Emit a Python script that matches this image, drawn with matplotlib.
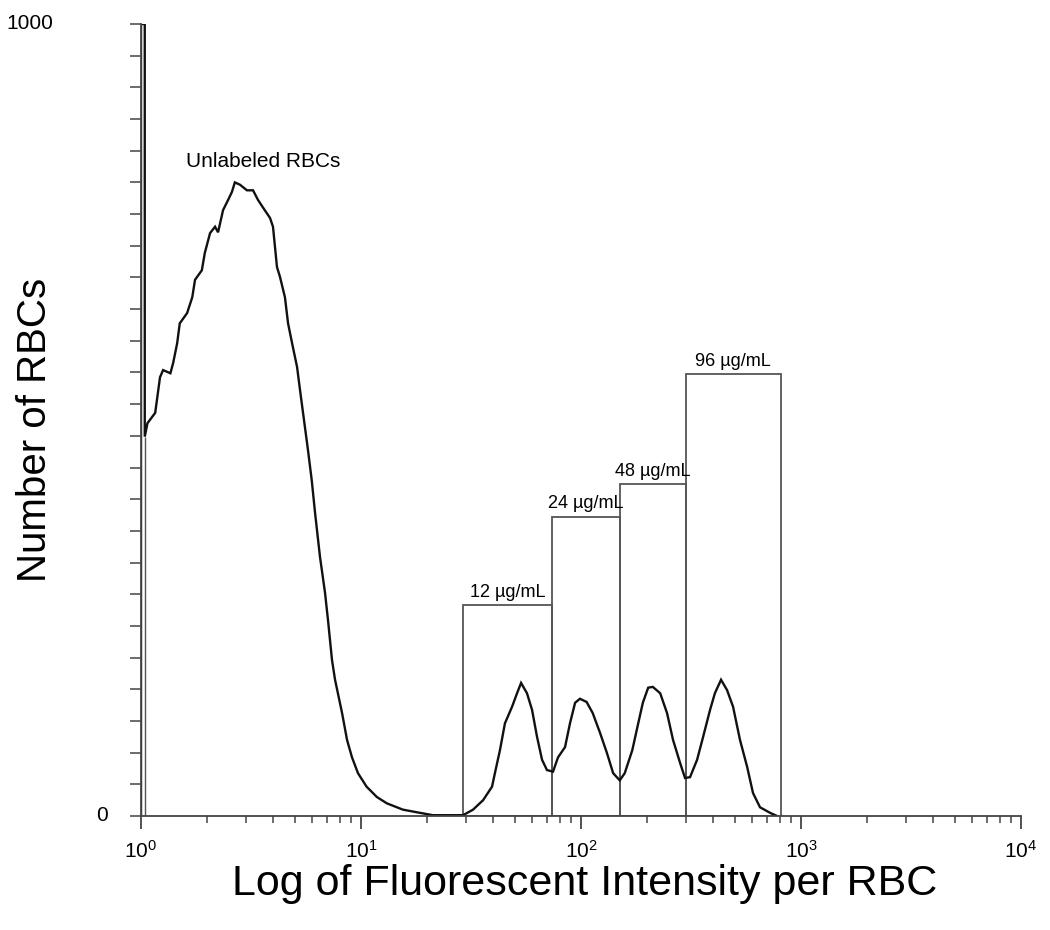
import matplotlib
matplotlib.use("Agg")
import matplotlib.pyplot as plt
from matplotlib.ticker import LogLocator, NullFormatter, MultipleLocator

plt.rcParams['font.family'] = ['Liberation Sans', 'DejaVu Sans']
plt.rcParams['mathtext.fontset'] = 'custom'
plt.rcParams['mathtext.rm'] = 'Liberation Sans'
plt.rcParams['mathtext.it'] = 'Liberation Sans'

# histogram trace (fluorescence intensity, number of cells)
hist_x = [1.0, 1.0, 1.04, 1.04, 1.07, 1.16, 1.22, 1.26, 1.36, 1.40, 1.46, 1.50, 1.62,
          1.71, 1.76, 1.89, 1.95, 2.06, 2.17, 2.24, 2.36, 2.49, 2.59, 2.67, 2.82,
          3.03, 3.23, 3.40, 3.59, 3.86, 3.98, 4.15, 4.28, 4.51, 4.66, 4.86, 5.12,
          5.28, 5.56, 5.74, 5.97, 6.18, 6.51, 6.86, 7.08, 7.38, 7.62, 8.20, 8.64,
          9.10, 9.69, 10.6, 11.8, 13.1, 15.5, 18.5, 21.2, 29.1,
          32.3, 35.9, 39.4, 40.6, 42.8, 45.1, 48.6, 51.2, 53.4, 56.8, 59.9, 63.1,
          66.5, 70.0, 74.6, 78.6, 84.6, 89.1, 94.0, 98.9, 106, 113, 122, 131, 140,
          150, 158, 171, 182, 191, 202, 212, 229, 246, 262, 282, 297, 313, 337,
          359, 386, 406, 433, 461, 491, 528, 569, 605, 651, 723, 778]
hist_y = [0, 1000, 1000, 479, 496, 509, 554, 563, 559, 572, 597, 622, 635,
          655, 677, 689, 711, 736, 744, 737, 765, 778, 788, 800, 797,
          790, 790, 778, 768, 755, 744, 693, 681, 655, 622, 597, 567,
          538, 491, 462, 424, 383, 327, 282, 247, 197, 172, 130, 96,
          74, 54, 37, 24, 16, 8, 4, 1, 1,
          8, 20, 37, 54, 83, 117, 138, 155, 168, 155, 134, 100,
          71, 58, 56, 74, 87, 117, 143, 148, 144, 130, 105, 80, 54,
          45, 54, 83, 117, 143, 162, 163, 155, 130, 96, 67, 48, 49, 71,
          100, 134, 155, 172, 159, 138, 96, 62, 29, 11, 4, 0]
first_bin_edge = 1.04

# gates
gate_left = [29.2, 73.6, 151, 299]
gate_right = [73.6, 151, 299, 808]
gate_height = [266, 378, 419, 558]
gate_labels = ['12 µg/mL', '24 µg/mL', '48 µg/mL', '96 µg/mL']

fig = plt.figure(figsize=(10.5, 9.3), dpi=100)
ax = fig.add_axes([0.1343, 0.1226, 0.8381, 0.8516])

ax.set_xscale('log')
ax.set_xlim(1, 10000)
ax.set_ylim(0, 1000)

ax.plot(hist_x, hist_y, color='#111111', lw=1.7, solid_joinstyle='miter')
ax.vlines(first_bin_edge, 0, hist_y[3], color='#555555', lw=1.0)

widths = [r - l for l, r in zip(gate_left, gate_right)]
ax.bar(gate_left, gate_height, width=widths, align='edge', fill=False,
       edgecolor='#555555', linewidth=1.3)
for l, r, h, lab in zip(gate_left, gate_right, gate_height, gate_labels):
    ax.annotate(lab, ((l * r) ** 0.5, h), xytext=(0, 3), textcoords='offset points',
                ha='center', va='bottom', fontsize=13)

ax.text(3.58, 814, 'Unlabeled RBCs', ha='center', va='bottom', fontsize=15)

for s in ['top', 'right']:
    ax.spines[s].set_visible(False)
for s in ['left', 'bottom']:
    ax.spines[s].set_color('#444444')
    ax.spines[s].set_linewidth(1.3)

ax.xaxis.set_minor_locator(LogLocator(base=10, subs=range(2, 10), numticks=20))
ax.xaxis.set_minor_formatter(NullFormatter())
ax.set_xticks([1, 10, 100, 1000, 10000])
ax.set_xticklabels([r'$10^{0}$', r'$10^{1}$', r'$10^{2}$', r'$10^{3}$', r'$10^{4}$'])
ax.tick_params(axis='x', which='major', length=9, width=1.3, color='#444444',
               labelsize=15, pad=8)
ax.tick_params(axis='x', which='minor', length=5, width=1.1, color='#444444')

ax.yaxis.set_major_locator(MultipleLocator(40))
ax.set_yticklabels([])
ax.tick_params(axis='y', which='major', length=8, width=1.1, color='#444444')
ax.text(-0.1, 1000, '1000', transform=ax.get_yaxis_transform(), ha='right',
        va='center', fontsize=15)
ax.text(-0.0375, 0, '0', transform=ax.get_yaxis_transform(), ha='right',
        va='center', fontsize=15)

fig.text(0.033, 0.538, 'Number of RBCs', rotation=90, ha='center', va='center',
         fontsize=29)
fig.text(0.557, 0.049, 'Log of Fluorescent Intensity per RBC', ha='center',
         va='center', fontsize=31)

fig.savefig('out.png', dpi=100)
